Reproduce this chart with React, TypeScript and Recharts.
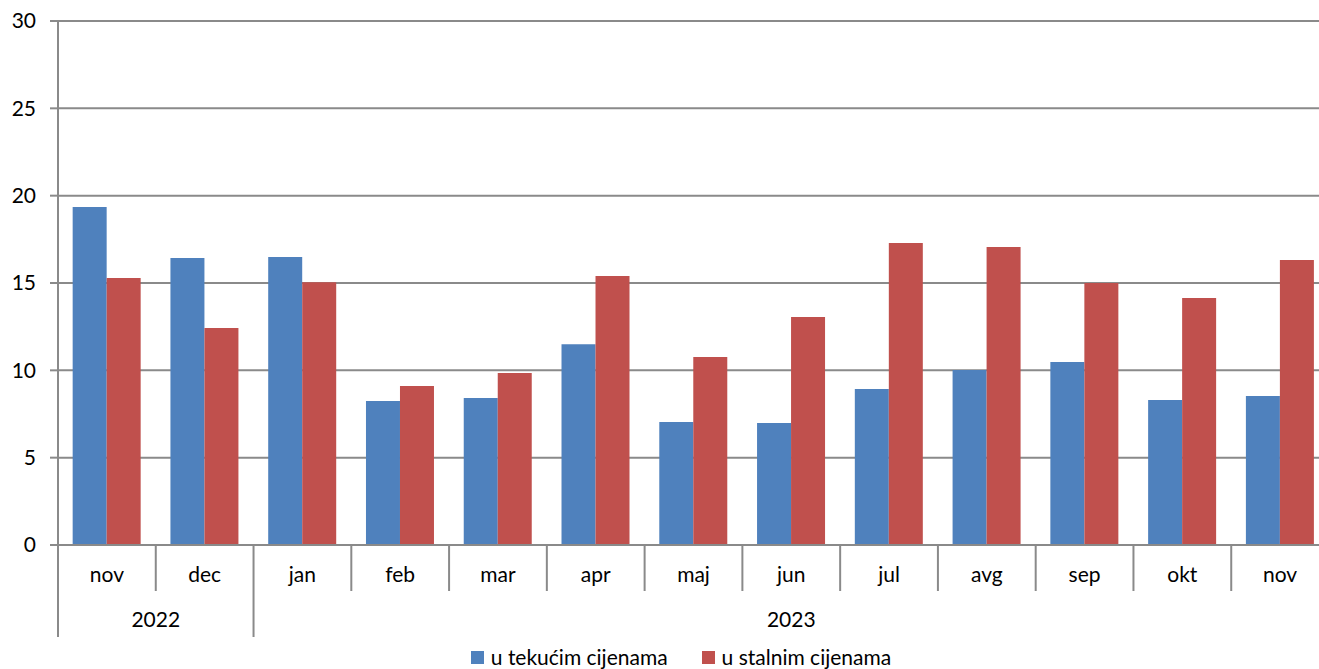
import { Bar, BarChart, CartesianGrid, Legend, XAxis, YAxis } from "recharts"

const months = ["nov", "dec", "jan", "feb", "mar", "apr", "maj", "jun", "jul", "avg", "sep", "okt", "nov"]
const years = ["2022", "2022", "2023", "2023", "2023", "2023", "2023", "2023", "2023", "2023", "2023", "2023", "2023"]
const tekuce = [19.35, 16.43, 16.49, 8.24, 8.41, 11.5, 7.04, 6.98, 8.93, 10.02, 10.48, 8.3, 8.53]
const stalne = [15.28, 12.42, 15.05, 9.1, 9.85, 15.4, 10.76, 13.05, 17.29, 17.06, 15.0, 14.14, 16.31]
const yTicks = [0, 5, 10, 15, 20, 25, 30]

const seriesNames = ["u tekućim cijenama", "u stalnim cijenama"]
const colors = ["#4F81BD", "#C0504D"]

// the source is cropped on the right: the plot runs a little past the frame
const W = 1330
const H = 669
const margin = { top: 21, right: 1, left: 8, bottom: 0 }
const yAxisW = 50
const band = (W - margin.left - margin.right - yAxisW) / months.length
const rowH = 46
const grid = "#8a8a8a"
const font = "Lato, 'Open Sans', sans-serif"
const fs = 21

const data = months.map((m, i) => ({
  key: `${m}-${years[i]}`,
  year: years[i],
  tekuce: tekuce[i],
  stalne: stalne[i],
}))

function MonthTick(props: any) {
  const { x, y, index } = props
  const left = x - band / 2
  const newYear = index === 0 || years[index] !== years[index - 1]
  return (
    <g>
      <line x1={left} x2={left} y1={y} y2={y + (newYear ? rowH * 2 : rowH)} stroke={grid} strokeWidth={2} />
      <text x={x} y={y + 32} textAnchor="middle" dominantBaseline="middle" fill="#000" fontSize={fs} fontFamily={font}>
        {months[index]}
      </text>
    </g>
  )
}

function YearTick(props: any) {
  const { x, y, index } = props
  if (index !== 0 && years[index] === years[index - 1]) return <g />
  let count = 0
  while (index + count < years.length && years[index + count] === years[index]) count++
  const cx = x - band / 2 + (count * band) / 2
  return (
    <text x={cx} y={y + 31} textAnchor="middle" dominantBaseline="middle" fill="#000" fontSize={fs} fontFamily={font}>
      {years[index]}
    </text>
  )
}

function LegendBox() {
  return (
    <div style={{ display: "flex", justifyContent: "center", gap: 34, paddingTop: 8, paddingLeft: 25, fontFamily: font, fontSize: fs, lineHeight: "24px" }}>
      {seriesNames.map((n, i) => (
        <div key={n} style={{ display: "flex", alignItems: "center", gap: 7 }}>
          <span style={{ width: 13, height: 13, background: colors[i], display: "inline-block" }} />
          <span style={{ color: "#000" }}>{n}</span>
        </div>
      ))}
    </div>
  )
}

export default function App() {
  return (
    <div style={{ position: "fixed", top: 0, left: 0, width: 1319, height: H, overflow: "hidden", background: "#fff" }}>
      <BarChart width={W} height={H} data={data} margin={margin} barCategoryGap="15%" barGap={0}>
        <CartesianGrid vertical={false} stroke={grid} strokeWidth={2} />
        <YAxis
          domain={[0, 30]}
          ticks={yTicks}
          interval={0}
          width={yAxisW}
          axisLine={{ stroke: grid, strokeWidth: 2 }}
          tickLine={{ stroke: grid, strokeWidth: 2 }}
          tickSize={8}
          tickMargin={14}
          tick={{ fill: "#000", fontSize: fs, fontFamily: font }}
        />
        <XAxis
          dataKey="key"
          interval={0}
          height={rowH}
          axisLine={{ stroke: grid, strokeWidth: 2 }}
          tickLine={false}
          tickSize={0}
          tickMargin={0}
          tick={<MonthTick />}
        />
        <XAxis
          xAxisId="yr"
          dataKey="key"
          interval={0}
          height={rowH}
          axisLine={false}
          tickLine={false}
          tickSize={0}
          tickMargin={0}
          tick={<YearTick />}
        />
        <Legend verticalAlign="bottom" height={32} content={<LegendBox />} />
        <Bar dataKey="tekuce" name={seriesNames[0]} fill={colors[0]} isAnimationActive={false} />
        <Bar dataKey="stalne" name={seriesNames[1]} fill={colors[1]} isAnimationActive={false} />
      </BarChart>
    </div>
  )
}
